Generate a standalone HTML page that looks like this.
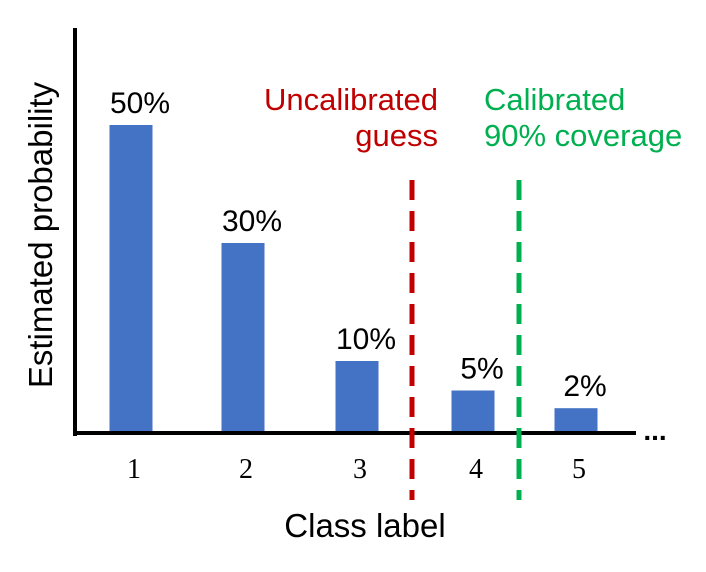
<!DOCTYPE html>
<html><head><meta charset="utf-8"><style>
html,body{margin:0;padding:0;background:#fff;}
svg{display:block;}
text{font-family:"Liberation Sans",sans-serif;}
</style></head><body>
<svg id="chart" width="706" height="572" xmlns="http://www.w3.org/2000/svg">
<g id="bars"></g>
<line x1="75" y1="28" x2="75" y2="436" stroke="#000" stroke-width="4"/>
<line x1="73" y1="433" x2="636" y2="433" stroke="#000" stroke-width="4"/>
<text x="655" y="440" font-size="28" font-weight="bold" text-anchor="middle">...</text>
<line x1="412" y1="180" x2="412" y2="500" stroke="#C00000" stroke-width="5" stroke-dasharray="20,11"/>
<line x1="519" y1="180" x2="519" y2="500" stroke="#00B050" stroke-width="5" stroke-dasharray="20,11"/>
<text x="438" y="110" font-size="31" fill="#C00000" text-anchor="end">Uncalibrated</text>
<text x="438" y="146" font-size="31" fill="#C00000" text-anchor="end">guess</text>
<text x="484" y="110" font-size="31" fill="#00B050">Calibrated</text>
<text x="484" y="146" font-size="31" fill="#00B050">90% coverage</text>
<text x="365" y="537" font-size="33" text-anchor="middle">Class label</text>
<text transform="translate(52,235) rotate(-90)" font-size="33" text-anchor="middle">Estimated probability</text>
</svg>
<script>
const categories = ["1","2","3","4","5"];
const values = [50,30,10,5,2];
const valueLabels = ["50%","30%","10%","5%","2%"];
const ns = "http://www.w3.org/2000/svg";
const centers = [131,243,357,473,576];
function xScale(i){ return centers[i]; }
function yScale(v){ return 433 - (13 + 5.9*v); }
const g = document.getElementById("bars");
const svg = document.getElementById("chart");
values.forEach((v,i)=>{
  const r = document.createElementNS(ns,"rect");
  
  
  const top = yScale(v);
  r.setAttribute("x", xScale(i)-21.5);
  r.setAttribute("y", top);
  r.setAttribute("width", 43);
  r.setAttribute("height", 433-top);
  r.setAttribute("fill", "#4472C4");
  g.appendChild(r);
  const t = document.createElementNS(ns,"text");
  
  
  t.setAttribute("x", xScale(i)+9);
  t.setAttribute("y", top-12);
  t.setAttribute("font-size", "30");
  t.setAttribute("text-anchor", "middle");
  t.textContent = valueLabels[i];
  svg.appendChild(t);
  const c = document.createElementNS(ns,"text");
  
  
  c.setAttribute("x", xScale(i)+3);
  c.setAttribute("y", 478);
  c.setAttribute("font-size", "28");
  c.setAttribute("text-anchor", "middle");
  c.setAttribute("style", "font-family:'Liberation Serif',serif");
  c.textContent = categories[i];
  svg.appendChild(c);
});
</script>
</body></html>
